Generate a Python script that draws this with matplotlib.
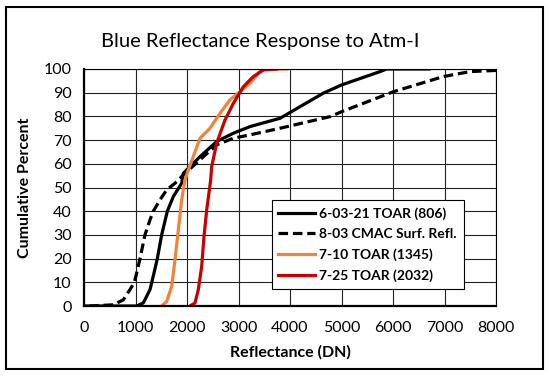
"""Blue reflectance cumulative response chart."""

import matplotlib

matplotlib.use("Agg")
from matplotlib import pyplot as plt
from matplotlib.patches import Rectangle

# 6-03-21 TOAR (806)
toar_0603_x = [0, 1023, 1152, 1282, 1359, 1424, 1508, 1618, 1735, 1897, 1929, 2252,
               2576, 2900, 3223, 3806, 4194, 4647, 5004, 5748, 5877, 6700]
toar_0603_y = [0, 0, 1.3, 6.9, 13.9, 20, 30, 40, 46.2, 51.8, 56, 63,
               69.4, 72.9, 75.7, 79.2, 84.1, 89.8, 93.3, 98.9, 100, 100]

# 8-03 CMAC Surf. Refl.
cmac_x = [100, 569, 764, 893, 977, 1023, 1087, 1184, 1282, 1346, 1476, 1605, 1767,
          1929, 2252, 2576, 2900, 3223, 3806, 4777, 5004, 6006, 6977, 7495, 8000]
cmac_y = [0, 0.5, 2.6, 6.9, 10, 13.9, 20, 30, 36.4, 40, 44.8, 49, 51.8,
          55.3, 61.7, 68, 70.8, 72.2, 75, 79.9, 82, 90.4, 96.8, 98.9, 99.4]

# 7-10 TOAR (1345)
toar_0710_x = [1508, 1605, 1703, 1767, 1832, 1897, 1961, 2026, 2252, 2447, 2641,
               2835, 3029, 3223, 3417, 3515, 3936]
toar_0710_y = [0, 1.9, 8.3, 19.5, 32.2, 44.8, 53.2, 57.4, 70.8, 75, 81.3,
               87, 90.4, 94, 98.9, 100, 100]

# 7-25 TOAR (2032)
toar_0725_x = [2058, 2155, 2220, 2285, 2330, 2383, 2460, 2479, 2576, 2738, 2900,
               3094, 3288, 3482, 3741]
toar_0725_y = [0, 1.3, 6.9, 16.7, 29.3, 40.6, 53.2, 58.8, 68.7, 78.5, 85.5,
               92.5, 96.8, 99.6, 100]

plt.rcParams["font.family"] = ["Lato", "DejaVu Sans"]

fig = plt.figure(figsize=(5.5, 3.76), dpi=100)
ax = fig.add_axes([84 / 550, 1 - 306 / 376, 412 / 550, 237 / 376])

ax.plot(toar_0603_x, toar_0603_y, color="black", lw=2.3, label="6-03-21 TOAR (806)")
ax.plot(cmac_x, cmac_y, color="black", lw=2.3, ls=(0, (3, 1.5)),
        label="8-03 CMAC Surf. Refl.")
ax.plot(toar_0710_x, toar_0710_y, color="#f4823a", lw=2.3, label="7-10 TOAR (1345)")
ax.plot(toar_0725_x, toar_0725_y, color="#c80000", lw=2.3, label="7-25 TOAR (2032)")

ax.set_xlim(0, 8000)
ax.set_ylim(0, 100)
ax.set_xticks(range(0, 8001, 1000))
ax.set_yticks(range(0, 101, 10))
ax.grid(True, color="#222222", lw=0.8)
ax.set_axisbelow(True)
ax.tick_params(length=0, labelsize=11.5)
ax.tick_params(axis="x", pad=11)
ax.tick_params(axis="y", pad=9)
for side in ["top", "right"]:
    ax.spines[side].set_linewidth(0.8)
for side in ["left", "bottom"]:
    ax.spines[side].set_linewidth(1.6)

ax.set_xlabel("Reflectance (DN)", fontsize=11.5, fontweight="bold", labelpad=7)
ax.set_ylabel("Cumulative Percent", fontsize=11.5, fontweight="bold", labelpad=8)

leg = ax.legend(loc="lower right", bbox_to_anchor=(0.922, 0.072), fontsize=10,
                frameon=True, fancybox=False, edgecolor="black", framealpha=1,
                handlelength=2.6, borderpad=0.5, labelspacing=0.6,
                handletextpad=0.35, borderaxespad=0)
leg.get_frame().set_linewidth(0.8)
for t in leg.get_texts():
    t.set_fontweight("bold")

fig.text(260 / 550, 1 - 42 / 376, "Blue Reflectance Response to Atm-I",
         ha="center", va="center", fontsize=14.5)

fig.patches.append(Rectangle((6 / 550, 7 / 376), 537 / 550, 362 / 376,
                             transform=fig.transFigure, fill=False,
                             edgecolor="black", lw=1.5))

fig.savefig("out.png", dpi=100)
